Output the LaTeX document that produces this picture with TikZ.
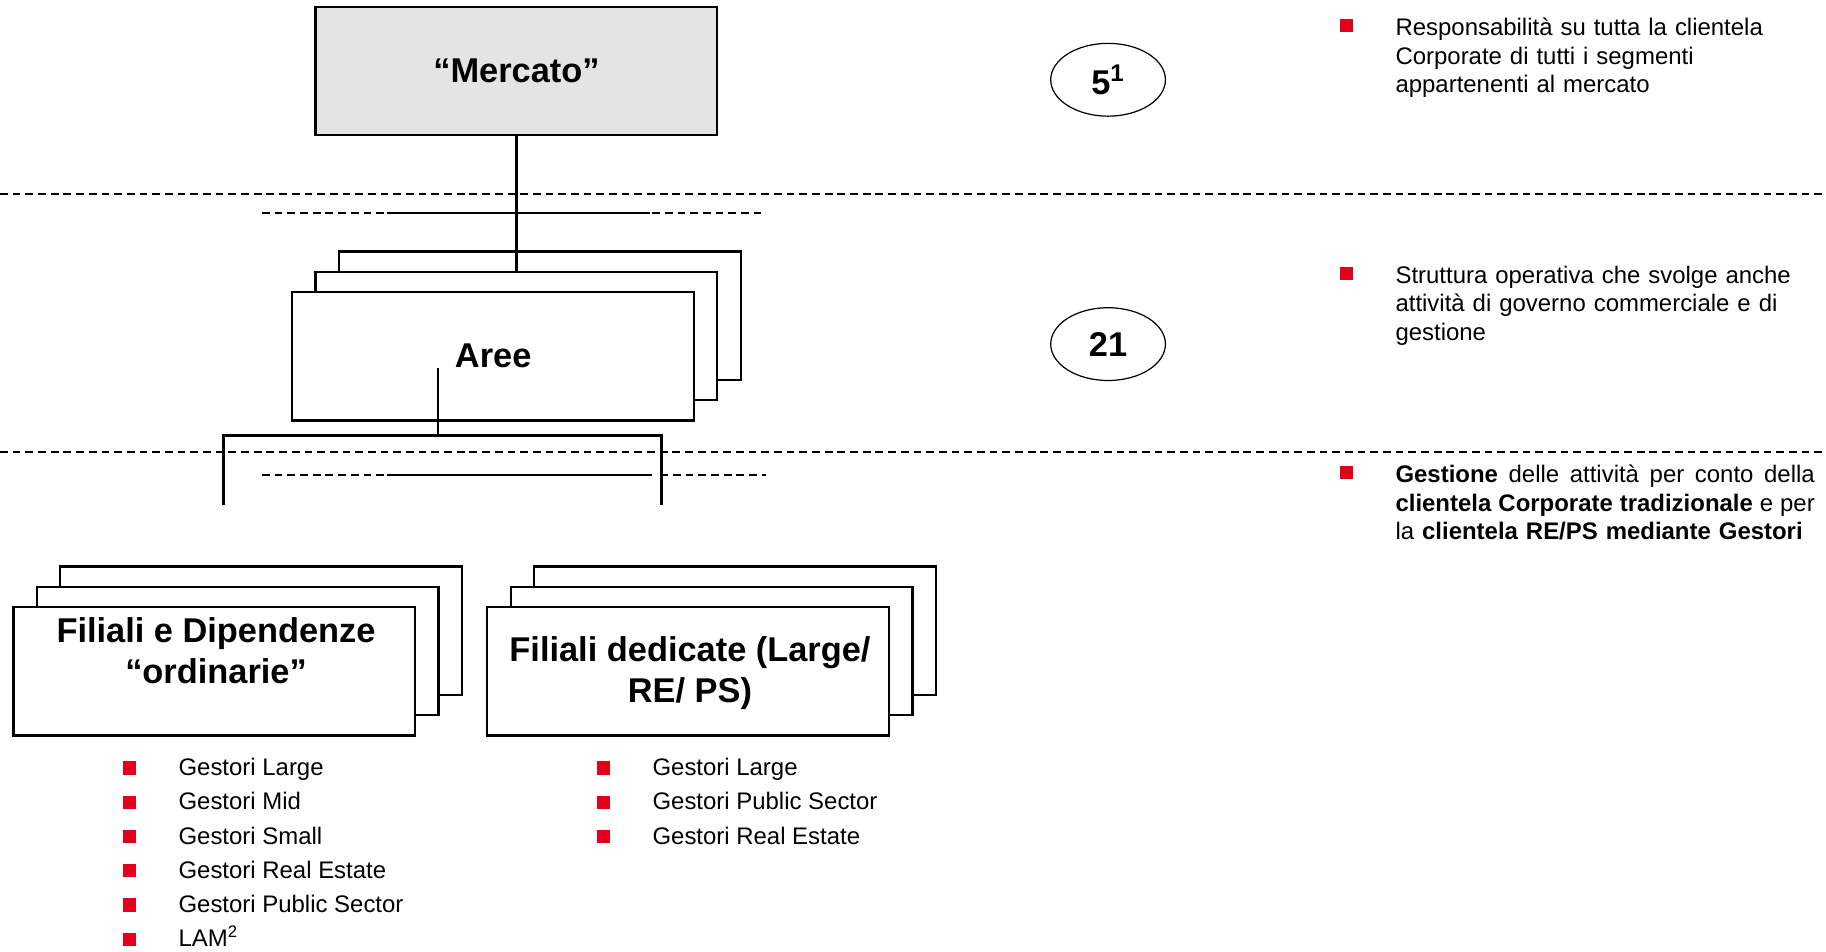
\documentclass[tikz,border=0pt]{standalone}
\usepackage{fontspec}
\setmainfont{Liberation Sans}
\usetikzlibrary{positioning,shapes.geometric}
\definecolor{OrgRed}{RGB}{226,0,26}
\definecolor{OrgGray}{RGB}{228,228,228}
\tikzset{
  org/box/.style={
    draw=black,
    line width=1.1pt,
    fill=white,
    align=center,
    minimum width=6.9cm,
    minimum height=2.2cm,
    inner sep=0pt,
    font=\bfseries\fontsize{16.8}{20}\selectfont
  },
  org/title/.style={align=center, inner sep=0pt, font=\bfseries\fontsize{16.8}{20}\selectfont},
  org/count/.style={
    ellipse,
    draw=black,
    line width=0.6pt,
    minimum width=1.97cm,
    minimum height=1.25cm,
    inner sep=0pt,
    font=\bfseries\fontsize{16.8}{20}\selectfont
  },
  org/link/.style={line width=1.1pt},
  org/sep/.style={line width=0.95pt, dash pattern=on 3.8pt off 2.4pt},
  org/bullet/.style={rectangle, fill=OrgRed, minimum size=0.23cm, inner sep=0pt},
  org/note/.style={anchor=north west, inner sep=0pt, text width=7.2cm, align=left, font=\fontsize{11.7}{14}\selectfont},
  org/item/.style={anchor=base west, inner sep=0pt, font=\fontsize{11.7}{14}\selectfont}
}

\begin{document}
\begin{tikzpicture}[x=1cm,y=1cm]
  \useasboundingbox (0,0) rectangle (31.36,16.34);
  % separators
  \draw[org/sep] (0,13.0) -- (31.36,13.0);
  \draw[org/sep] (0,8.58) -- (31.36,8.58);
  \draw[org/sep] (4.5,12.68) -- (6.64,12.68);
  \draw[org/link,line width=0.95pt] (6.64,12.68) -- (11.16,12.68);
  \draw[org/sep] (11.2,12.68) -- (13.16,12.68);
  \draw[org/sep] (4.5,8.18) -- (6.64,8.18);
  \draw[org/link,line width=0.95pt] (6.64,8.18) -- (11.2,8.18);
  \draw[org/sep] (11.34,8.18) -- (13.16,8.18);

  \node[org/box,fill=OrgGray] (mercato) at (8.87,15.12) {“Mercato”};

  \node[org/box] (aree3) at (9.27,10.92) {};
  \node[org/box] (aree2) at (8.87,10.57) {};
  \node[org/box] (aree1) at (8.47,10.22) {Aree};

  \node[org/box] (ord3) at (4.48,5.51) {};
  \node[org/box] (ord2) at (4.08,5.16) {};
  \node[org/box] (ord1) at (3.68,4.81) {};
  \node[org/title] (ordtxt) at (3.71,5.17) {Filiali e Dipendenze\\“ordinarie”};

  \node[org/box] (ded3) at (12.62,5.51) {};
  \node[org/box] (ded2) at (12.22,5.16) {};
  \node[org/box] (ded1) at (11.82,4.81) {};
  \node[org/title] (dedtxt) at (11.85,4.78) {Filiali dedicate (Large/\\RE/ PS)};

  \coordinate (areeout) at (7.52,10.02);
  \coordinate (split) at (7.52,8.86);
  \coordinate (legL) at (3.84,7.67);
  \coordinate (legR) at (11.36,7.67);
  \draw[org/link] (mercato.south) -- (aree2.north);
  \draw[org/link] (areeout) -- (split);
  \draw[org/link] (legL) |- (split) -| (legR);

  \node[org/count] (nmercato) at (19.03,14.97) {5\textsuperscript{1}};
  \node[org/count] (naree) at (19.03,10.43) {21};

  \node[org/bullet] (b1) at (23.12,15.9) {};
  \node[org/note] (t1) at (23.96,16.04) {Responsabilità su tutta la clientela\\Corporate di tutti i segmenti\\appartenenti al mercato};
  \node[org/bullet] (b2) at (23.12,11.64) {};
  \node[org/note] (t2) at (23.96,11.78) {Struttura operativa che svolge anche\\attività di governo commerciale e di\\gestione};
  \node[org/bullet] (b3) at (23.12,8.22) {};
  \node[org/note] (t3) at (23.96,8.36) {\makebox[7.2cm][l]{\textbf{Gestione}\hfill delle\hfill attività\hfill per\hfill conto\hfill della}\\\makebox[7.2cm][l]{\textbf{clientela}\hfill\textbf{Corporate}\hfill\textbf{tradizionale}\hfill e\hfill per}\\la \textbf{clientela RE/PS mediante Gestori}};

  \node[org/bullet] (lb1) at (2.22,3.15) {};
  \node[org/item] (li1) at (3.06,3.02) {Gestori Large};
  \node[org/bullet] (lb2) at (2.22,2.56) {};
  \node[org/item] (li2) at (3.06,2.43) {Gestori Mid};
  \node[org/bullet] (lb3) at (2.22,1.97) {};
  \node[org/item] (li3) at (3.06,1.84) {Gestori Small};
  \node[org/bullet] (lb4) at (2.22,1.39) {};
  \node[org/item] (li4) at (3.06,1.26) {Gestori Real Estate};
  \node[org/bullet] (lb5) at (2.22,0.80) {};
  \node[org/item] (li5) at (3.06,0.67) {Gestori Public Sector};
  \node[org/bullet] (lb6) at (2.22,0.21) {};
  \node[org/item] (li6) at (3.06,0.08) {LAM\textsuperscript{2}};

  \node[org/bullet] (rb1) at (10.36,3.15) {};
  \node[org/item] (ri1) at (11.2,3.02) {Gestori Large};
  \node[org/bullet] (rb2) at (10.36,2.56) {};
  \node[org/item] (ri2) at (11.2,2.43) {Gestori Public Sector};
  \node[org/bullet] (rb3) at (10.36,1.97) {};
  \node[org/item] (ri3) at (11.2,1.84) {Gestori Real Estate};
\end{tikzpicture}
\end{document}
